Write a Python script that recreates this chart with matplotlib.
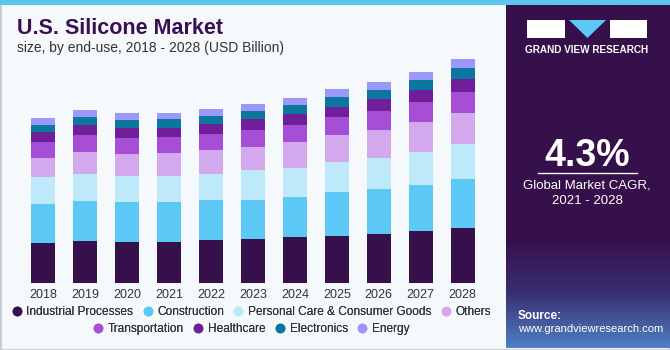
import numpy as np
import matplotlib
matplotlib.use("Agg")
from matplotlib import pyplot as plt
from matplotlib.lines import Line2D
from matplotlib.colors import LinearSegmentedColormap
from matplotlib.patches import Rectangle, Polygon

plt.rcParams['font.family'] = ['Liberation Sans', 'DejaVu Sans']

# datos (USD Billion)
years = ['2018', '2019', '2020', '2021', '2022', '2023', '2024', '2025', '2026', '2027', '2028']
segments = ['Industrial Processes', 'Construction', 'Personal Care & Consumer Goods', 'Others',
            'Transportation', 'Healthcare', 'Electronics', 'Energy']
industrial = [0.67, 0.70, 0.69, 0.69, 0.71, 0.73, 0.76, 0.79, 0.82, 0.86, 0.91]
construction = [0.64, 0.67, 0.66, 0.66, 0.68, 0.66, 0.68, 0.72, 0.74, 0.78, 0.83]
personal_care = [0.46, 0.45, 0.43, 0.43, 0.43, 0.50, 0.48, 0.50, 0.52, 0.55, 0.57]
others = [0.32, 0.37, 0.37, 0.38, 0.39, 0.38, 0.43, 0.45, 0.47, 0.49, 0.52]
transportation = [0.26, 0.28, 0.27, 0.27, 0.28, 0.28, 0.28, 0.30, 0.32, 0.33, 0.35]
healthcare = [0.16, 0.16, 0.16, 0.16, 0.16, 0.18, 0.18, 0.18, 0.19, 0.20, 0.22]
electronics = [0.13, 0.14, 0.14, 0.14, 0.14, 0.14, 0.15, 0.16, 0.16, 0.17, 0.18]
energy = [0.11, 0.11, 0.11, 0.11, 0.11, 0.12, 0.12, 0.13, 0.13, 0.14, 0.15]
series = [industrial, construction, personal_care, others, transportation, healthcare, electronics, energy]
colors = ['#36104A', '#5BC8F5', '#BDE9FA', '#D4A8EC', '#A64ED6', '#6E1F99', '#0B779E', '#9B98FC']

W, H = 670, 350
fig = plt.figure(figsize=(6.7, 3.5), dpi=100)
fig.patch.set_facecolor('#F5F9FC')

# fondo: borde, franja superior y panel derecho
bg = fig.add_axes([0, 0, 1, 1])
bg.set_xlim(0, W)
bg.set_ylim(H, 0)
bg.axis('off')
bg.add_patch(Rectangle((0, 0), W, H, facecolor='none', edgecolor='#C8CCD0', lw=2))
panel_grad = LinearSegmentedColormap.from_list('p', ['#35104A', '#35104A', '#3A2E72', '#4E7FC2'])
grad = np.linspace(0, 1, 200).reshape(-1, 1)
grad = np.clip((grad - 0.68) / 0.32, 0, 1) * 0.67 + np.where(grad > 0.68, 0.33, grad / 0.68 * 0.33)
bg.imshow(grad, cmap=panel_grad, extent=[506, W, H - 2, 5], aspect='auto', zorder=1)
bg.add_patch(Rectangle((0, 0), W, 5, facecolor='#5BC5F0', edgecolor='none', zorder=2))

# logo
bg.add_patch(Rectangle((527, 20), 38, 18, facecolor='white', edgecolor='none', zorder=3))
bg.add_patch(Polygon([(569, 20), (606, 20), (587.5, 38)], facecolor='#5BC8F5', edgecolor='none', zorder=3))
bg.add_patch(Rectangle((610, 20), 37, 18, facecolor='white', edgecolor='none', zorder=3))
bg.text(587, 50, 'GRAND VIEW RESEARCH', color='white', fontsize=7.2, fontweight='bold',
        ha='center', va='center', zorder=3)

bg.text(587, 156, '4.3%', color='white', fontsize=27, fontweight='bold', ha='center', va='center', zorder=3)
bg.plot([538, 637], [173, 173], color='white', lw=1, zorder=3)
bg.text(587, 186, 'Global Market CAGR,', color='white', fontsize=9.5, ha='center', va='center', zorder=3)
bg.text(587, 201, '2021 - 2028', color='white', fontsize=9.5, ha='center', va='center', zorder=3)
bg.text(518, 316, 'Source:', color='white', fontsize=8.5, fontweight='bold', ha='left', va='center', zorder=3)
bg.text(518, 329, 'www.grandviewresearch.com', color='white', fontsize=8, ha='left', va='center', zorder=3)

# títulos
bg.text(17, 28, 'U.S. Silicone Market', color='#3A1052', fontsize=15.5, fontweight='bold',
        ha='left', va='center', zorder=3)
bg.text(17, 48, 'size, by end-use, 2018 - 2028 (USD Billion)', color='#333333', fontsize=10,
        ha='left', va='center', zorder=3)

# barras apiladas
ax = fig.add_axes([22 / W, 67 / H, 461.7 / W, 228 / H])
ax.set_facecolor('none')
x = np.arange(len(years))
bottom = np.zeros(len(years))
for vals, c, name in zip(series, colors, segments):
    ax.bar(x, vals, bottom=bottom, width=0.58, color=c, label=name)
    bottom += np.array(vals)
ax.set_xlim(-0.5, len(years) - 0.5)
ax.set_ylim(0, 3.8)
ax.set_xticks(x)
ax.set_xticklabels(years, fontsize=9, color='#333333')
ax.tick_params(axis='x', length=0, pad=4)
ax.set_yticks([])
for s in ax.spines.values():
    s.set_visible(False)

# leyenda en dos filas
handles = [Line2D([], [], marker='o', ls='none', markersize=7, markerfacecolor=c, markeredgecolor='none')
           for c in colors]
for row, yy in [(0, 311.7), (1, 329)]:
    lg = fig.legend(handles[row * 4:row * 4 + 4], segments[row * 4:row * 4 + 4], ncol=4,
                    loc='center', bbox_to_anchor=(252 / W, 1 - yy / H), frameon=False,
                    fontsize=8.6, handletextpad=0.5, columnspacing=0.9, handlelength=0.6,
                    labelcolor='#333333', borderaxespad=0, borderpad=0)
    fig.add_artist(lg)

fig.savefig('out.png', dpi=100, facecolor=fig.get_facecolor())
